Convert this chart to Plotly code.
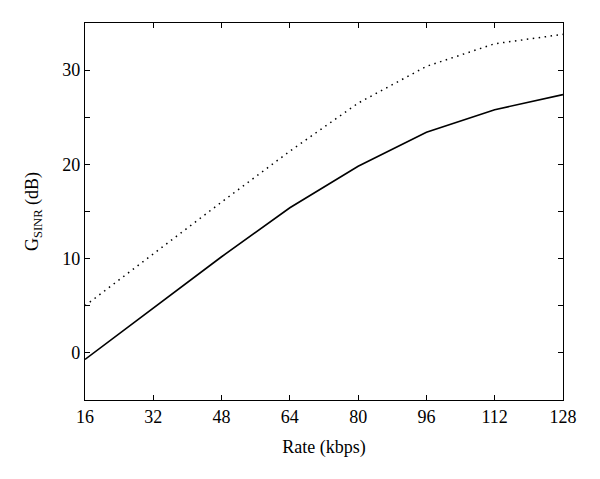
import plotly.graph_objects as go

rate = [16, 32, 48, 64, 80, 96, 112, 128]
g_solid = [-0.7, 4.8, 10.2, 15.4, 19.8, 23.4, 25.8, 27.4]
g_dotted = [5.0, 10.5, 16.0, 21.4, 26.5, 30.4, 32.8, 33.8]

x_ticks = [16, 32, 48, 64, 80, 96, 112, 128]
y_ticks = [0, 10, 20, 30]

font = "Liberation Serif"

fig = go.Figure()
fig.add_trace(go.Scatter(x=rate, y=g_dotted, mode="lines",
                         line=dict(color="black", width=1.5, dash="1.5px,4.5px"),
                         showlegend=False))
fig.add_trace(go.Scatter(x=rate, y=g_solid, mode="lines",
                         line=dict(color="black", width=1.6),
                         showlegend=False))

axis_common = dict(showgrid=False, zeroline=False, showline=True, linecolor="black",
                   linewidth=1.3, mirror="ticks", ticks="inside", ticklen=5,
                   tickcolor="black", tickwidth=1.2,
                   tickfont=dict(family=font, size=18, color="black"))

fig.update_xaxes(range=[16, 128], tickvals=x_ticks,
                 title=dict(text="Rate (kbps)", font=dict(family=font, size=18, color="black"),
                            standoff=14),
                 **axis_common)
fig.update_yaxes(range=[-5, 35], tickvals=y_ticks,
                 minor=dict(dtick=5, ticks="inside", ticklen=5, tickcolor="black",
                            tickwidth=1.2, showgrid=False),
                 title=dict(text="G<sub>SINR</sub> (dB)", font=dict(family=font, size=18, color="black"),
                            standoff=18),
                 **axis_common)

fig.update_layout(width=592, height=471, plot_bgcolor="white", paper_bgcolor="white",
                  margin=dict(l=77, r=37, t=15, b=79))

fig.write_html("out.html")
